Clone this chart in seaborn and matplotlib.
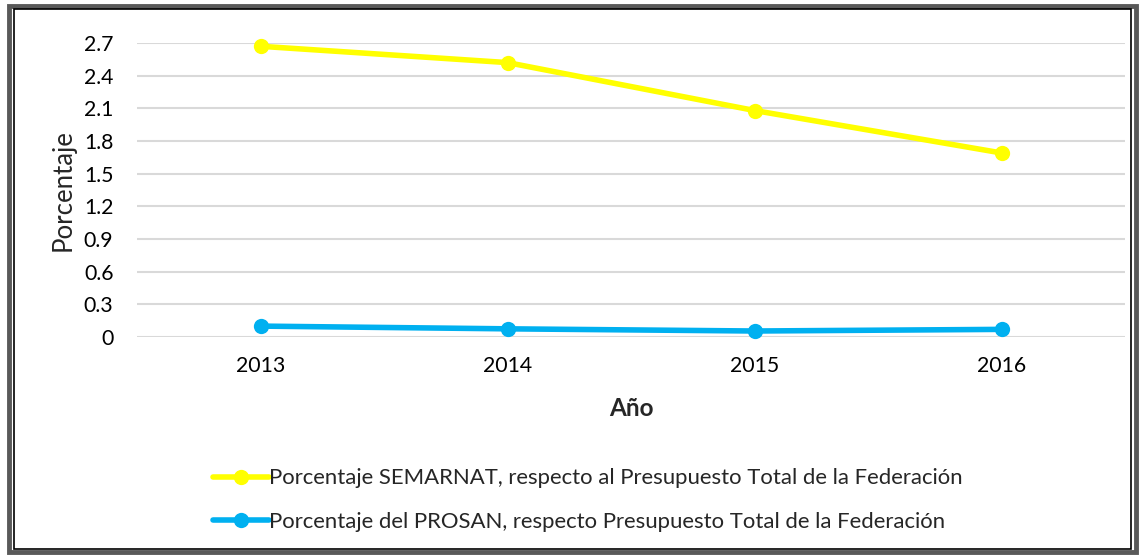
import numpy as np
import pandas as pd
import matplotlib
matplotlib.use("Agg")
import matplotlib.pyplot as plt
import seaborn as sns
from matplotlib.patches import Rectangle

# data
years = ["2013", "2014", "2015", "2016"]
semarnat = [2.67, 2.52, 2.08, 1.69]
prosan = [0.10, 0.075, 0.055, 0.07]
series_names = [
    "Porcentaje SEMARNAT, respecto al Presupuesto Total de la Federación",
    "Porcentaje del PROSAN, respecto Presupuesto Total de la Federación",
]
series_colors = ["#FFFF00", "#00B0F0"]
y_ticks = [0, 0.3, 0.6, 0.9, 1.2, 1.5, 1.8, 2.1, 2.4, 2.7]
y_tick_labels = ["0", "0.3", "0.6", "0.9", "1.2", "1.5", "1.8", "2.1", "2.4", "2.7"]


def build_frame():
    df = pd.DataFrame({
        "Año": years * 2,
        "Porcentaje": semarnat + prosan,
        "Serie": [series_names[0]] * len(years) + [series_names[1]] * len(years),
    })
    return df


def main():
    sns.set_theme(style="white")
    plt.rcParams["font.family"] = ["Lato", "DejaVu Sans"]

    df = build_frame()

    fig = plt.figure(figsize=(11.43, 5.55), dpi=100)
    ax = fig.add_axes([0.1199, 0.3928, 0.8645, 0.5297])

    sns.lineplot(data=df, x="Año", y="Porcentaje", hue="Serie",
                 palette=dict(zip(series_names, series_colors)),
                 marker="o", markersize=11, markeredgewidth=0,
                 linewidth=4, ax=ax, legend=True, sort=False)
    for line in ax.lines:
        line.set_clip_on(False)

    ax.set_xlim(-0.5, len(years) - 0.5)
    ax.set_ylim(0, 2.7)
    ax.set_yticks(y_ticks)
    ax.set_yticklabels(y_tick_labels)
    ax.yaxis.grid(True, color="#D9D9D9", linewidth=1.5)
    ax.set_axisbelow(True)
    for s in ax.spines.values():
        s.set_visible(False)
    ax.tick_params(axis="both", length=0, labelsize=15.3, colors="black")
    ax.tick_params(axis="y", pad=17)
    ax.tick_params(axis="x", pad=14)

    ax.set_ylabel("Porcentaje", fontsize=18.5, labelpad=6)
    ax.set_xlabel("Año", fontsize=17.5, fontweight="bold", labelpad=15)

    handles, labels = ax.get_legend_handles_labels()
    ax.get_legend().remove()
    fig.legend(handles, labels, loc="upper left", bbox_to_anchor=(0.179, 0.172),
               frameon=False, fontsize=15.9, handlelength=2.5, handletextpad=0.0,
               labelspacing=1.06, borderaxespad=0)

    # double border around the figure
    fig.patches.append(Rectangle((0.0075, 0.005), 0.9865, 0.985, transform=fig.transFigure,
                                 fill=False, edgecolor="#595959", linewidth=3.5))
    fig.patches.append(Rectangle((0.0125, 0.0105), 0.9770, 0.974, transform=fig.transFigure,
                                 fill=False, edgecolor="black", linewidth=1.2))

    fig.savefig("out.png", dpi=100)


if __name__ == "__main__":
    main()
